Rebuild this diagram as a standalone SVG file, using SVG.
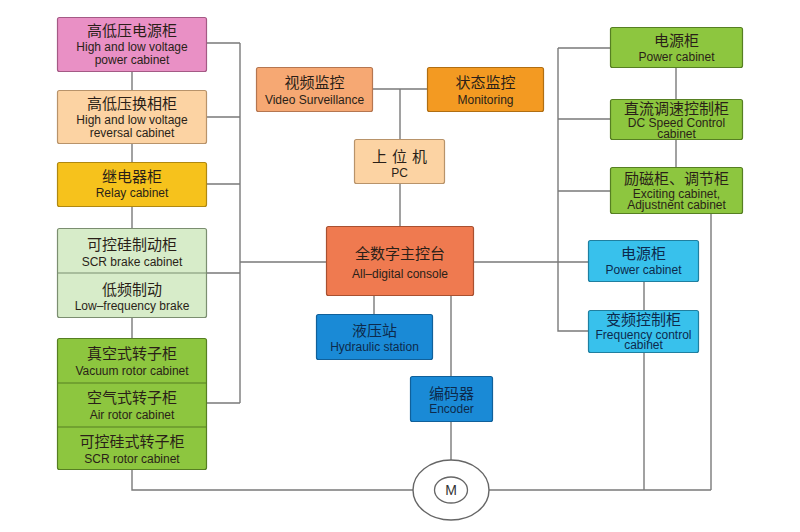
<svg xmlns="http://www.w3.org/2000/svg" width="800" height="532" viewBox="0 0 800 532">
<style>
.cn{font-family:"Noto Sans CJK SC","Noto Sans",sans-serif;font-size:15px;text-anchor:middle;fill:#2a1f18}
.en{font-family:"Liberation Sans",Arial,sans-serif;font-size:12px;text-anchor:middle;fill:#2a1f18}
.nv{fill:#0d2a4c}
.box{stroke-width:1.2}
.ln{fill:none;stroke:#7a7a7a;stroke-width:1.4}
</style>
<rect width="800" height="532" fill="#ffffff"/>
<g id="connectors">
<path class="ln" d="M132 72V90M132 144V162M132 207V228M132 318V338"/>
<path class="ln" d="M207 43H240M207 117H240M207 184H240M207 273H240M207 403H240M240 43V403M240 262H326"/>
<path class="ln" d="M132 470V490H413M489 490H711"/>
<path class="ln" d="M373 89H427M400 89V139M400 184V226"/>
<path class="ln" d="M374 296V314M451 296V376M451 422V460"/>
<path class="ln" d="M474 262H588M558 48V331H588M558 48H610M558 119H610M558 191H610"/>
<path class="ln" d="M676 68V99M676 140V167M711 214V490M644 282V310M644 353V490"/>
</g>
<g id="n_hlpower"><rect class="box" x="57.5" y="17.5" width="149" height="54" rx="2" fill="#e990c5" stroke="#a45a85"/>
<text class="cn" x="132" y="36">高低压电源柜</text><text class="en" x="132" y="51">High and low voltage</text><text class="en" x="132" y="64">power cabinet</text></g>
<g id="n_hlreversal"><rect class="box" x="57.5" y="90.5" width="149" height="53" rx="2" fill="#fcd3a3" stroke="#b8936a"/>
<text class="cn" x="132" y="109">高低压换相柜</text><text class="en" x="132" y="124">High and low voltage</text><text class="en" x="132" y="137">reversal cabinet</text></g>
<g id="n_relay"><rect class="box" x="57.5" y="162.5" width="149" height="44" rx="2" fill="#f6c21c" stroke="#b08810"/>
<text class="cn" x="132" y="182">继电器柜</text><text class="en" x="132" y="197">Relay cabinet</text></g>
<g id="n_scrbrake"><rect class="box" x="57.5" y="228.5" width="149" height="89" rx="2" fill="#d7ecc9" stroke="#7b8e70"/>
<line x1="57.5" y1="273" x2="206.5" y2="273" stroke="#7b8e70" stroke-width="1.2"/>
<text class="cn" x="132" y="250">可控硅制动柜</text><text class="en" x="132" y="266">SCR brake cabinet</text>
<text class="cn" x="132" y="295">低频制动</text><text class="en" x="132" y="310">Low–frequency brake</text></g>
<g id="n_rotor"><rect class="box" x="57.5" y="338.5" width="149" height="131" rx="2" fill="#8dc63f" stroke="#567f22"/>
<line x1="57.5" y1="383" x2="206.5" y2="383" stroke="#567f22" stroke-width="1.2"/>
<line x1="57.5" y1="427" x2="206.5" y2="427" stroke="#567f22" stroke-width="1.2"/>
<text class="cn" x="132" y="359">真空式转子柜</text><text class="en" x="132" y="375">Vacuum rotor cabinet</text>
<text class="cn" x="132" y="403">空气式转子柜</text><text class="en" x="132" y="419">Air rotor cabinet</text>
<text class="cn" x="132" y="447">可控硅式转子柜</text><text class="en" x="132" y="463">SCR rotor cabinet</text></g>
<g id="n_video"><rect class="box" x="256.5" y="67.5" width="116" height="44" rx="2" fill="#f6a873" stroke="#b57650"/>
<text class="cn" x="314.5" y="88">视频监控</text><text class="en" x="314.5" y="104">Video Surveillance</text></g>
<g id="n_monitor"><rect class="box" x="427.5" y="67.5" width="116" height="44" rx="2" fill="#f39a22" stroke="#b06e12"/>
<text class="cn" x="485.5" y="88">状态监控</text><text class="en" x="485.5" y="104">Monitoring</text></g>
<g id="n_pc"><rect class="box" x="354.5" y="139.5" width="90" height="44" rx="2" fill="#fcd3a3" stroke="#b8936a"/>
<text class="cn" x="402" y="162" style="letter-spacing:5px">上位机</text><text class="en" x="399.5" y="177">PC</text></g>
<g id="n_console"><rect class="box" x="326.5" y="226.5" width="147" height="69" rx="2" fill="#ef7a50" stroke="#a85030"/>
<text class="cn" x="400" y="259">全数字主控台</text><text class="en" x="400" y="278">All–digital console</text></g>
<g id="n_hydraulic"><rect class="box" x="316.5" y="314.5" width="116" height="45" rx="2" fill="#1a8ad6" stroke="#10609a"/>
<text class="cn nv" x="374.5" y="336">液压站</text><text class="en nv" x="374.5" y="351">Hydraulic station</text></g>
<g id="n_encoder"><rect class="box" x="410.5" y="376.5" width="82" height="45" rx="2" fill="#1a8ad6" stroke="#10609a"/>
<text class="cn nv" x="451.5" y="399">编码器</text><text class="en nv" x="451.5" y="413">Encoder</text></g>
<g id="n_power_g"><rect class="box" x="610.5" y="27.5" width="132" height="40" rx="2" fill="#8dc63f" stroke="#567f22"/>
<text class="cn" x="676.5" y="46">电源柜</text><text class="en" x="676.5" y="61">Power cabinet</text></g>
<g id="n_dc"><rect class="box" x="610.5" y="99.5" width="132" height="40" rx="2" fill="#8dc63f" stroke="#567f22"/>
<text class="cn" x="676.5" y="114">直流调速控制柜</text><text class="en" x="676.5" y="127">DC Speed Control</text><text class="en" x="676.5" y="138">cabinet</text></g>
<g id="n_exciting"><rect class="box" x="610.5" y="167.5" width="132" height="46" rx="2" fill="#8dc63f" stroke="#567f22"/>
<text class="cn" x="676.5" y="184">励磁柜、调节柜</text><text class="en" x="676.5" y="198">Exciting cabinet,</text><text class="en" x="676.5" y="209">Adjustnent cabinet</text></g>
<g id="n_power_b"><rect class="box" x="588.5" y="240.5" width="110" height="41" rx="2" fill="#38c1ec" stroke="#1f7fa0"/>
<text class="cn nv" x="643.5" y="259">电源柜</text><text class="en nv" x="643.5" y="274">Power cabinet</text></g>
<g id="n_freq"><rect class="box" x="588.5" y="310.5" width="110" height="42" rx="2" fill="#38c1ec" stroke="#1f7fa0"/>
<text class="cn nv" x="643.5" y="325">变频控制柜</text><text class="en nv" x="643.5" y="339">Frequency control</text><text class="en nv" x="643.5" y="349">cabinet</text></g>
<g id="n_motor"><ellipse cx="451" cy="490" rx="38" ry="30" fill="#fff" stroke="#666" stroke-width="1.4"/>
<ellipse cx="451" cy="490" rx="16.5" ry="13" fill="#fff" stroke="#666" stroke-width="1.3"/>
<text x="451" y="495" font-family="Liberation Sans,Arial,sans-serif" font-size="14" text-anchor="middle" fill="#333">M</text></g>
</svg>
